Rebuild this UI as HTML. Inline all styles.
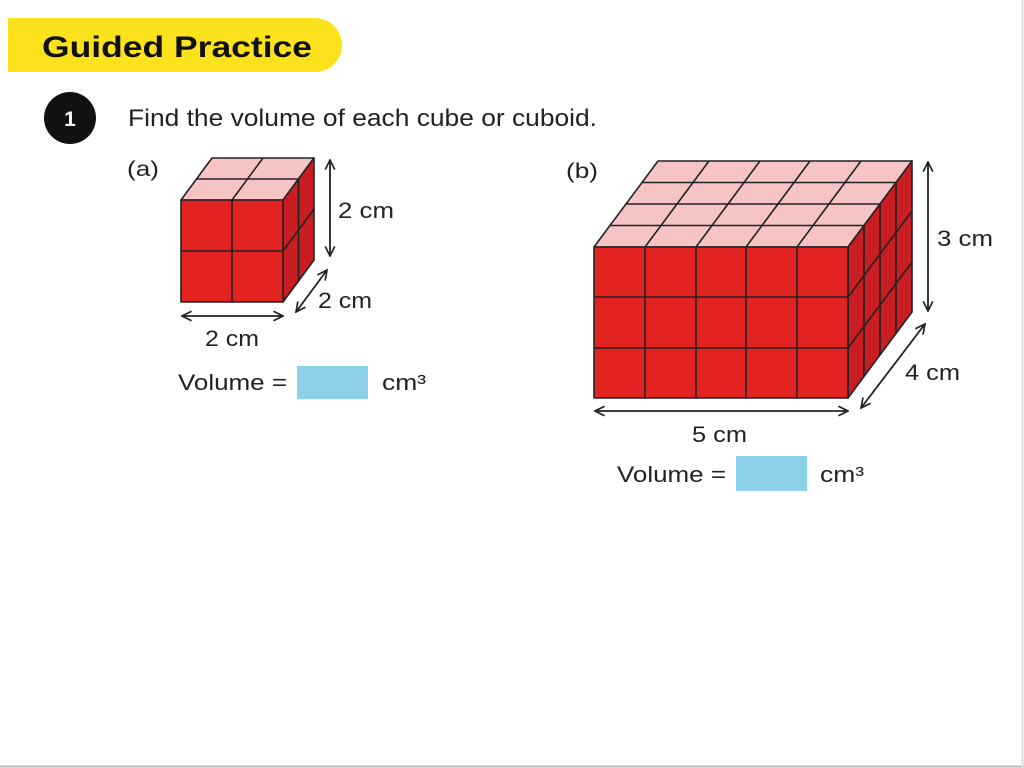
<!DOCTYPE html>
<html><head><meta charset="utf-8"><style>
html,body{margin:0;padding:0;background:#fff;width:1024px;height:768px;overflow:hidden}
svg text{font-family:"Liberation Sans",sans-serif;fill:#222}
</style></head><body>
<svg width="1024" height="768" viewBox="0 0 1024 768" xmlns="http://www.w3.org/2000/svg">
<defs>
<marker id="ah" viewBox="0 0 10 10" refX="9" refY="5" markerWidth="12" markerHeight="12" orient="auto-start-reverse" markerUnits="userSpaceOnUse">
<path d="M1,1 L9,5 L1,9" fill="none" stroke="#222" stroke-width="1.4"/>
</marker>
</defs>
<rect x="0" y="0" width="1024" height="768" fill="#fff"/>
<line x1="0" y1="766.5" x2="1024" y2="766.5" stroke="#bbb" stroke-width="2"/>
<line x1="1022.5" y1="0" x2="1022.5" y2="768" stroke="#ddd" stroke-width="2"/>
<path d="M8,18 H315 A27,27 0 0 1 315,72 H8 Z" fill="#fbe21c"/>
<text x="42" y="57" font-size="30" font-weight="bold" textLength="270" lengthAdjust="spacingAndGlyphs" style="fill:#111">Guided Practice</text>
<circle cx="70" cy="118" r="26" fill="#111"/>
<text x="70" y="126" font-size="21" font-weight="bold" text-anchor="middle" style="fill:#fff">1</text>
<text x="128" y="126" font-size="24" textLength="469" lengthAdjust="spacingAndGlyphs">Find the volume of each cube or cuboid.</text>

<text x="127" y="176" font-size="21" textLength="32" lengthAdjust="spacingAndGlyphs">(a)</text>
<text x="566" y="178" font-size="21" textLength="32" lengthAdjust="spacingAndGlyphs">(b)</text>

<g stroke="#222" stroke-width="1.6" stroke-linejoin="round">
<polygon points="181,200 283,200 314,158 212,158" fill="#f6c4c4"/>
<polygon points="283,200 314,158 314,260 283,302" fill="#c91d24"/>
<rect x="181" y="200" width="102" height="102" fill="#e32322"/>
<line x1="196.5" y1="179" x2="298.5" y2="179"/>
<line x1="232" y1="200" x2="263" y2="158"/>
<line x1="298.5" y1="179" x2="298.5" y2="281"/>
<line x1="283" y1="251" x2="314" y2="209"/>
<line x1="232" y1="200" x2="232" y2="302"/>
<line x1="181" y1="251" x2="283" y2="251"/>
</g>
<g stroke="#222" stroke-width="1.8" fill="none">
<line x1="330" y1="160" x2="330" y2="256" marker-start="url(#ah)" marker-end="url(#ah)"/>
<line x1="296" y1="312" x2="327" y2="270" marker-start="url(#ah)" marker-end="url(#ah)"/>
<line x1="182" y1="316" x2="283" y2="316" marker-start="url(#ah)" marker-end="url(#ah)"/>
</g>
<text x="338" y="218" font-size="22" textLength="56" lengthAdjust="spacingAndGlyphs">2 cm</text>
<text x="318" y="308" font-size="22" textLength="54" lengthAdjust="spacingAndGlyphs">2 cm</text>
<text x="205" y="346" font-size="22" textLength="54" lengthAdjust="spacingAndGlyphs">2 cm</text>
<text x="178" y="390" font-size="22" textLength="109" lengthAdjust="spacingAndGlyphs">Volume =</text>
<rect x="297" y="366" width="71" height="33" fill="#8dd0ea"/>
<text x="382" y="390" font-size="22" textLength="44" lengthAdjust="spacingAndGlyphs">cm³</text>

<g stroke="#222" stroke-width="1.6" stroke-linejoin="round">
<polygon points="594,247 848,247 912,161 658,161" fill="#f6c4c4"/>
<polygon points="848,247 912,161 912,312 848,398" fill="#c91d24"/>
<rect x="594" y="247" width="254" height="151" fill="#e32322"/>
<line x1="610" y1="225.5" x2="864" y2="225.5"/>
<line x1="626" y1="204" x2="880" y2="204"/>
<line x1="642" y1="182.5" x2="896" y2="182.5"/>
<line x1="645" y1="247" x2="709" y2="161"/>
<line x1="696" y1="247" x2="760" y2="161"/>
<line x1="746" y1="247" x2="810" y2="161"/>
<line x1="797" y1="247" x2="861" y2="161"/>
<line x1="864" y1="225.5" x2="864" y2="376.5"/>
<line x1="880" y1="204" x2="880" y2="355"/>
<line x1="896" y1="182.5" x2="896" y2="333.5"/>
<line x1="848" y1="297" x2="912" y2="211"/>
<line x1="848" y1="348" x2="912" y2="262"/>
<line x1="645" y1="247" x2="645" y2="398"/>
<line x1="696" y1="247" x2="696" y2="398"/>
<line x1="746" y1="247" x2="746" y2="398"/>
<line x1="797" y1="247" x2="797" y2="398"/>
<line x1="594" y1="297" x2="848" y2="297"/>
<line x1="594" y1="348" x2="848" y2="348"/>
</g>
<g stroke="#222" stroke-width="1.8" fill="none">
<line x1="928" y1="162" x2="928" y2="311" marker-start="url(#ah)" marker-end="url(#ah)"/>
<line x1="861" y1="408" x2="925" y2="324" marker-start="url(#ah)" marker-end="url(#ah)"/>
<line x1="595" y1="411" x2="848" y2="411" marker-start="url(#ah)" marker-end="url(#ah)"/>
</g>
<text x="937" y="246" font-size="22" textLength="56" lengthAdjust="spacingAndGlyphs">3 cm</text>
<text x="905" y="380" font-size="22" textLength="55" lengthAdjust="spacingAndGlyphs">4 cm</text>
<text x="692" y="442" font-size="22" textLength="55" lengthAdjust="spacingAndGlyphs">5 cm</text>
<text x="617" y="482" font-size="22" textLength="109" lengthAdjust="spacingAndGlyphs">Volume =</text>
<rect x="736" y="456" width="71" height="35" fill="#8dd0ea"/>
<text x="820" y="482" font-size="22" textLength="44" lengthAdjust="spacingAndGlyphs">cm³</text>
</svg>
</body></html>
